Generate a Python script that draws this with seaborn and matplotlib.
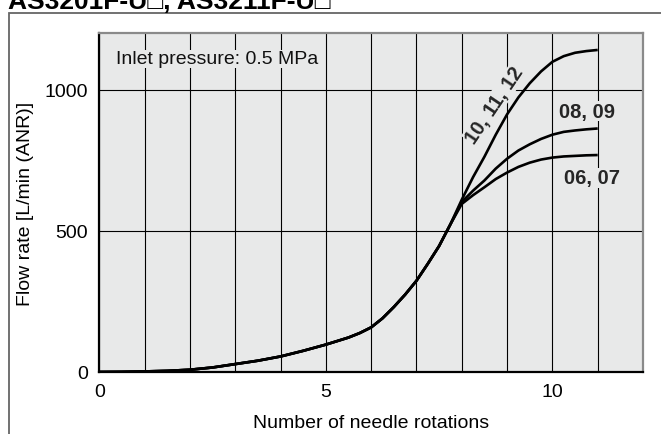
import numpy as np
import pandas as pd
import matplotlib
matplotlib.use("Agg")
import matplotlib.pyplot as plt
import seaborn as sns
from matplotlib.patches import Rectangle

# ---- data ----
x_common = [0, 0.5, 1, 1.5, 2, 2.5, 3, 3.5, 4, 4.5, 5, 5.5, 5.75, 6, 6.25, 6.5, 6.75,
            7, 7.25, 7.5, 7.75]
y_common = [0, 0.5, 2, 4, 8, 16, 28, 40, 55, 75, 97, 122, 138, 158, 190, 230, 274,
            323, 383, 446, 523]
x_branch = [8, 8.25, 8.5, 8.75, 9, 9.25, 9.5, 9.75, 10, 10.25, 10.5, 10.75, 11]
y_10_11_12 = [610, 690, 762, 840, 912, 972, 1022, 1064, 1098, 1118, 1130, 1136, 1140]
y_08_09 = [602, 642, 678, 720, 755, 784, 806, 825, 840, 850, 855, 859, 862]
y_06_07 = [595, 626, 654, 683, 706, 726, 741, 752, 759, 763, 765, 767, 768]
series_names = ["10, 11, 12", "08, 09", "06, 07"]
x_ticks = [0, 5, 10]
y_ticks = [0, 500, 1000]
title_text = "AS3201F-U\u25a1, AS3211F-U\u25a1"
note_text = "Inlet pressure: 0.5 MPa"
x_label = "Number of needle rotations"
y_label = "Flow rate [L/min (ANR)]"

frames = []
for name, yb in zip(series_names, [y_10_11_12, y_08_09, y_06_07]):
    frames.append(pd.DataFrame({"x": x_common + x_branch,
                                "y": y_common + yb,
                                "series": name}))
df = pd.concat(frames, ignore_index=True)

# ---- style ----
sns.set_theme(style="white")
plt.rcParams["font.family"] = ["Liberation Sans", "DejaVu Sans"]
BG = "#e8e9e9"

fig = plt.figure(figsize=(6.61, 4.35), dpi=100)
ax = fig.add_axes([99.3 / 661, (435 - 373) / 435, (643 - 99.3) / 661, (373 - 34) / 435])
ax.set_facecolor(BG)

sns.lineplot(data=df, x="x", y="y", hue="series", palette=["black"] * 3,
             legend=False, ax=ax, linewidth=1.9, sort=False, estimator=None)
for ln in ax.get_lines():
    ln.set_solid_joinstyle("round")
    ln.set_solid_capstyle("butt")

ax.set_xlim(0, 12)
ax.set_ylim(0, 1200)
ax.set_xticks(x_ticks)
ax.set_xticks(range(0, 13), minor=True)
ax.set_yticks(y_ticks)
ax.set_xticklabels([str(v) for v in x_ticks])
ax.set_yticklabels([str(v) for v in y_ticks])
ax.grid(True, which="both", axis="x", color="black", linewidth=0.8)
ax.grid(True, which="major", axis="y", color="black", linewidth=0.8)
ax.set_axisbelow(True)
ax.tick_params(axis="x", which="both", length=0, labelsize=14, pad=8, colors="black")
ax.tick_params(axis="y", which="major", length=7, width=0.8, labelsize=14, pad=1,
               colors="black", direction="out")
for lab in ax.get_xticklabels() + ax.get_yticklabels():
    lab.set_color("black")

ax.set_xlabel(x_label, fontsize=14, color="black", labelpad=10)
ax.set_ylabel(y_label, fontsize=14, color="black", labelpad=8)

for s in ["left", "bottom"]:
    ax.spines[s].set_color("black")
    ax.spines[s].set_linewidth(1.6)
for s in ["top", "right"]:
    ax.spines[s].set_color("#8a8a8a")
    ax.spines[s].set_linewidth(1.6)
    ax.spines[s].set_visible(True)

box = dict(facecolor=BG, edgecolor="none", pad=0.5)
ax.text(0.37, 1108, note_text, fontsize=14, ha="left", va="center",
        color="#111111", bbox=box)
ax.text(8.72, 947, series_names[0], fontsize=14.5, fontweight="bold", ha="center",
        va="center", rotation=56, rotation_mode="anchor", bbox=box)
ax.text(10.77, 923, series_names[1], fontsize=14.5, fontweight="bold",
        ha="center", va="center", bbox=box)
ax.text(10.88, 688, series_names[2], fontsize=14.5, fontweight="bold",
        ha="center", va="center", bbox=box)

# outer frame (runs off the right and bottom edges)
fig.patches.append(Rectangle((8.5 / 661, -0.05), 1.2, 1 - 14 / 435 + 0.05,
                             transform=fig.transFigure, fill=False,
                             edgecolor="#666666", linewidth=1.3, zorder=0))
fig.text(8 / 661, 1 - 9 / 435, title_text, fontsize=19, fontweight="bold",
         ha="left", va="baseline", color="black",
         family=["Liberation Sans", "DejaVu Sans"])

fig.savefig("out.png", dpi=100, facecolor="white")
